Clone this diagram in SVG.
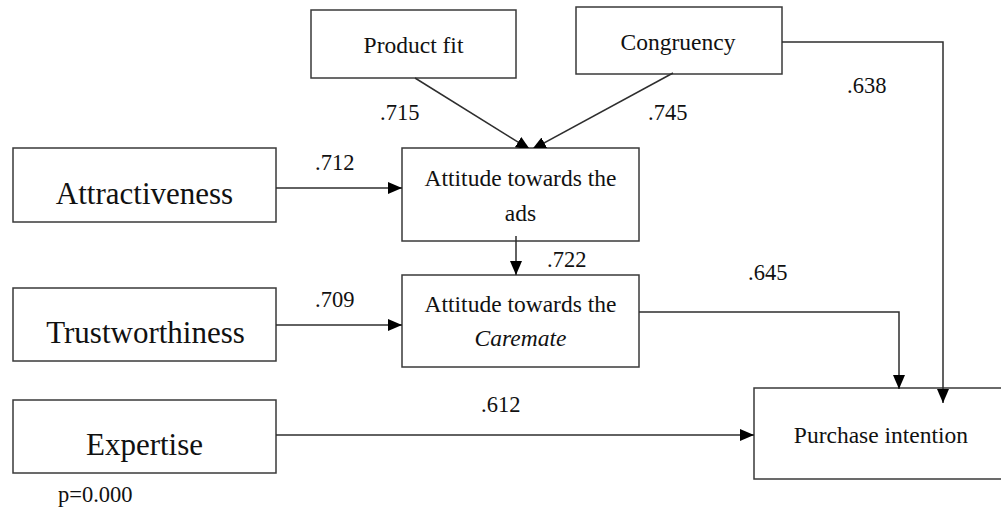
<svg xmlns="http://www.w3.org/2000/svg" width="1001" height="511" viewBox="0 0 1001 511">
  <style>
    .box { fill: #ffffff; stroke: #3a3a3a; stroke-width: 1.5; }
    .edge { fill: none; stroke: #2e2e2e; stroke-width: 1.5; }
    .lbl { font-family: "Liberation Serif", "Times New Roman", serif; fill: #111111; }
    .big { font-size: 31px; text-anchor: middle; }
    .mid { font-size: 23.5px; text-anchor: middle; }
    .num { font-size: 22.5px; }
  </style>
  <defs>
    <marker id="arrow" markerUnits="userSpaceOnUse" markerWidth="14" markerHeight="12" refX="14" refY="6" orient="auto" viewBox="0 0 14 12">
      <path d="M0,0 L14,6 L0,12 z" fill="#000000"/>
    </marker>
    <!-- the two slanted arrows stop at the top edge of the ads box -->
    <clipPath id="above-ads">
      <rect x="0" y="0" width="1001" height="148"/>
    </clipPath>
  </defs>

  <rect width="1001" height="511" fill="#ffffff"/>

  <g id="product-fit">
    <rect class="box" x="311" y="10" width="205" height="68"/>
    <text class="lbl mid" x="413.5" y="53">Product fit</text>
  </g>

  <g id="congruency">
    <rect class="box" x="576" y="7" width="206" height="67"/>
    <text class="lbl mid" x="678" y="50">Congruency</text>
  </g>

  <g id="attitude-ads">
    <rect class="box" x="402" y="148" width="237" height="93"/>
    <text class="lbl mid" x="520.5" y="186">Attitude towards the</text>
    <text class="lbl mid" x="520.5" y="221">ads</text>
  </g>

  <g id="attitude-caremate">
    <rect class="box" x="402" y="275" width="237" height="92"/>
    <text class="lbl mid" x="520.5" y="312">Attitude towards the</text>
    <text class="lbl mid" x="520.5" y="346" font-style="italic">Caremate</text>
  </g>

  <g id="attractiveness">
    <rect class="box" x="13" y="148" width="263" height="74"/>
    <text class="lbl big" x="144.5" y="204">Attractiveness</text>
  </g>

  <g id="trustworthiness">
    <rect class="box" x="13" y="288" width="263" height="73"/>
    <text class="lbl big" x="145.5" y="343">Trustworthiness</text>
  </g>

  <g id="expertise">
    <rect class="box" x="13" y="400" width="263" height="73"/>
    <text class="lbl big" x="144.5" y="455">Expertise</text>
  </g>

  <g id="purchase-intention">
    <rect class="box" x="754" y="388" width="252" height="91"/>
    <text class="lbl mid" x="881" y="443">Purchase intention</text>
  </g>

  <g id="connectors">
    <g clip-path="url(#above-ads)">
      <line class="edge" x1="415" y1="78" x2="530" y2="149.5" marker-end="url(#arrow)"/>
      <line class="edge" x1="673" y1="73" x2="532" y2="149.5" marker-end="url(#arrow)"/>
    </g>
    <polyline class="edge" points="782,42 943,42 943,403" marker-end="url(#arrow)"/>
    <line class="edge" x1="276" y1="188" x2="402" y2="188" marker-end="url(#arrow)"/>
    <line class="edge" x1="276" y1="325" x2="402" y2="325" marker-end="url(#arrow)"/>
    <line class="edge" x1="516" y1="236" x2="516" y2="275" marker-end="url(#arrow)"/>
    <polyline class="edge" points="639,312 899,312 899,389" marker-end="url(#arrow)"/>
    <line class="edge" x1="276" y1="435" x2="754" y2="435" marker-end="url(#arrow)"/>

    <text class="lbl num" x="380" y="120">.715</text>
    <text class="lbl num" x="648" y="120">.745</text>
    <text class="lbl num" x="847" y="93">.638</text>
    <text class="lbl num" x="315" y="170">.712</text>
    <text class="lbl num" x="547" y="267">.722</text>
    <text class="lbl num" x="748" y="280">.645</text>
    <text class="lbl num" x="315" y="307">.709</text>
    <text class="lbl num" x="481" y="412">.612</text>
  </g>

  <text class="lbl num" x="58" y="502">p=0.000</text>
</svg>
